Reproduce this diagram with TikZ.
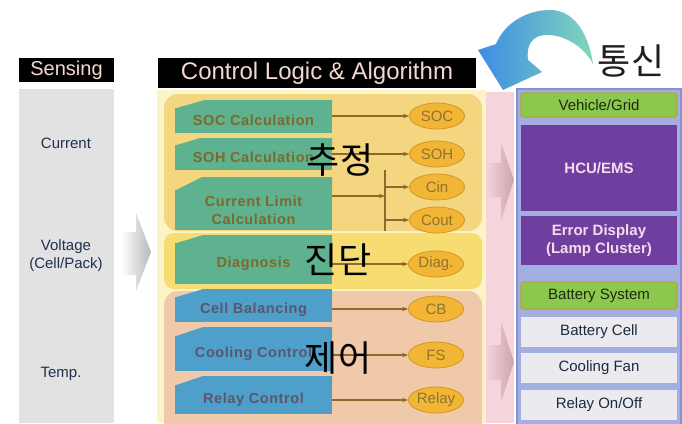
\documentclass[tikz,border=0pt]{standalone}
\usepackage{fontspec}
\setmainfont{Liberation Sans}
\newfontfamily\kr{Noto Sans CJK KR}
\newfontfamily\bwide[LetterSpace=4]{Liberation Sans}
\usetikzlibrary{shapes.geometric,arrows.meta}
\definecolor{sensG}{HTML}{E2E2E2}
\definecolor{hdrT}{HTML}{F4D8D2}
\definecolor{navT}{HTML}{1F3050}
\definecolor{paleY}{HTML}{FCF3C6}
\definecolor{estY}{HTML}{F3D67F}
\definecolor{diagY}{HTML}{F7DC72}
\definecolor{peach}{HTML}{EFC9AA}
\definecolor{tealF}{HTML}{5FB28F}
\definecolor{tealT}{HTML}{7C6A2C}
\definecolor{blueF}{HTML}{4F9FCB}
\definecolor{blueT}{HTML}{5A566E}
\definecolor{ellF}{HTML}{F2B535}
\definecolor{ellD}{HTML}{D4961E}
\definecolor{ellT}{HTML}{8E7432}
\definecolor{lineC}{HTML}{8C6A2A}
\definecolor{pinkC}{HTML}{F5D4DB}
\definecolor{pinkA}{HTML}{CDA2AE}
\definecolor{panelF}{HTML}{A4AFE1}
\definecolor{panelD}{HTML}{8591D5}
\definecolor{grnF}{HTML}{8CC74E}
\definecolor{grnD}{HTML}{B4A838}
\definecolor{grnT}{HTML}{1E2A10}
\definecolor{purF}{HTML}{6F3F9F}
\definecolor{purT}{HTML}{F4DCEC}
\definecolor{whF}{HTML}{EBEBEF}
\definecolor{whT}{HTML}{1E2A3C}
\definecolor{arrB}{HTML}{3C8CE6}
\definecolor{arrT}{HTML}{82D6BA}
\begin{document}
\begin{tikzpicture}[x=1pt,y=-1pt,
  conn/.style={draw=lineC,line width=1.1pt,-{Stealth[length=6pt,width=4.5pt]}},
  plainln/.style={draw=lineC,line width=1.1pt},
  ell/.style={ellipse,draw=ellD,line width=0.8pt,fill=ellF,minimum width=55pt,minimum height=26pt,inner sep=0pt,text=ellT,font=\fontsize{15}{18}\selectfont},
  tbox/.style={fill=tealF,minimum width=157pt,inner sep=0pt,text=tealT,align=center,font=\bwide\bfseries\fontsize{14.5}{18}\selectfont},
  bbox/.style={tbox,fill=blueF,text=blueT},
  hdr/.style={fill=black,inner sep=0pt,text=hdrT},
  stxt/.style={text=navT,align=center,font=\fontsize{15}{18}\selectfont},
  kor/.style={inner sep=0pt,text=black,font=\kr\fontsize{36}{40}\selectfont},
  rbox/.style={minimum width=156pt,inner sep=0pt,align=center,font=\fontsize{15}{18}\selectfont},
  gbox/.style={rbox,fill=grnF,draw=grnD,line width=1.2pt,rounded corners=2pt,text=grnT},
  pbox/.style={rbox,fill=purF,text=purT,font=\bfseries\fontsize{15}{18}\selectfont},
  wbox/.style={rbox,fill=whF,text=whT}]
\useasboundingbox (0,0) rectangle (682,423);
\fill[white] (0,0) rectangle (682,423);
% ---------- Sensing ----------
\node[hdr,minimum width=95pt,minimum height=24pt,font=\fontsize{20}{24}\selectfont] (sens) at (66.5,70) {Sensing};
\fill[sensG] (19,89) rectangle (114,423);
\node[stxt] (cur) at (66,143) {Current};
\node[stxt] (volt) at (66,256) {Voltage\\(Cell/Pack)};
\node[stxt] (temp) at (61,374) {Temp.};
\shade[left color=white,right color=gray!55] (121,232) -- (136,232) -- (136,213) -- (151,252) -- (136,291) -- (136,275) -- (121,275) -- cycle;
% ---------- Control logic ----------
\node[hdr,minimum width=318pt,minimum height=30pt,font=\fontsize{24}{28}\selectfont] (ctrl) at (317,73) {Control Logic \& Algorithm};
\fill[paleY] (157,90) rectangle (486,423);
\fill[estY,rounded corners=14pt] (164,94) rectangle (482,231);
\fill[diagY,rounded corners=10pt] (164,233) rectangle (482,289);
\fill[peach,rounded corners=14pt] (164,291) rectangle (482,440);
% chamfered tops
\fill[tealF] (175,108.5) -- (205,100) -- (332,100) -- (332,108.5) -- cycle;
\fill[tealF] (175,145.5) -- (200,138) -- (332,138) -- (332,145.5) -- cycle;
\fill[tealF] (175,190.5) -- (202,177) -- (332,177) -- (332,190.5) -- cycle;
\fill[tealF] (175,243.5) -- (203,235) -- (332,235) -- (332,243.5) -- cycle;
\fill[blueF] (175,297.5) -- (203,289) -- (332,289) -- (332,297.5) -- cycle;
\fill[blueF] (175,336.5) -- (203,327) -- (332,327) -- (332,336.5) -- cycle;
\fill[blueF] (175,385.5) -- (203,376) -- (332,376) -- (332,385.5) -- cycle;
\node[tbox,minimum height=25pt] (soc) at (253.5,120.5) {SOC Calculation};
\node[tbox,minimum height=25pt] (soh) at (253.5,157.5) {SOH Calculation};
\node[tbox,minimum height=40pt] (cl) at (253.5,210) {Current Limit\\Calculation};
\node[tbox,minimum height=41pt] (diag) at (253.5,263.5) {Diagnosis};
\node[bbox,minimum height=25pt] (cb) at (253.5,309.5) {Cell Balancing};
\node[bbox,minimum height=35pt] (cc) at (253.5,353.5) {Cooling Control};
\node[bbox,minimum height=29pt] (rc) at (253.5,399.5) {Relay Control};
% ellipses
\node[ell] (eSOC) at (437,116) {SOC};
\node[ell] (eSOH) at (437,154) {SOH};
\node[ell] (eCin) at (437,187) {Cin};
\node[ell] (eCout) at (437,220) {Cout};
\node[ell] (eDiag) at (436,264) {Diag.};
\node[ell] (eCB) at (436,309) {CB};
\node[ell] (eFS) at (436,355) {FS};
\node[ell] (eRelay) at (436,400) {Relay};
% connectors
\draw[conn] (soc.east |- eSOC) -- (eSOC.west);
\draw[conn] (soh.east |- eSOH) -- (eSOH.west);
\coordinate (barT) at (385,170);
\coordinate (barB) at (385,231);
\coordinate (barM) at (385,196);
\draw[plainln] (barT) -- (barB);
\draw[conn] (cl.east |- barM) -- (barM);
\draw[conn] (barT |- eCin) -- (eCin.west);
\draw[conn] (barT |- eCout) -- (eCout.west);
\draw[conn] (diag.east |- eDiag) -- (eDiag.west);
\draw[conn] (cb.east |- eCB) -- (eCB.west);
\draw[conn] (cc.east |- eFS) -- (eFS.west);
\draw[conn] (rc.east |- eRelay) -- (eRelay.west);
% Korean labels
\node[kor] (k1) at (340,160) {추정};
\node[kor] (k2) at (338,260) {진단};
\node[kor] (k3) at (338,358) {제어};
% ---------- pink column ----------
\fill[pinkC] (486,92) rectangle (514,423);
\shade[left color=pinkC,right color=pinkA] (486,163) -- (501,163) -- (501,143) -- (514,180) -- (501,220) -- (501,197) -- (486,197) -- cycle;
\shade[left color=pinkC,right color=pinkA] (486,345) -- (501,345) -- (501,322) -- (514,362) -- (501,402) -- (501,380) -- (486,380) -- cycle;
% ---------- right panel ----------
\fill[panelF,draw=panelD,line width=2pt] (517,89) rectangle (681,430);
\node[gbox,minimum height=24pt] (veh) at (599,105) {Vehicle/Grid};
\node[pbox,minimum height=86pt] (hcu) at (599,168) {HCU/EMS};
\node[pbox,minimum height=49pt] (err) at (599,240.5) {Error Display\\(Lamp Cluster)};
\node[gbox,minimum height=27pt] (bsys) at (599,295.5) {Battery System};
\node[wbox,minimum height=30pt] (bcell) at (599,332) {Battery Cell};
\node[wbox,minimum height=30pt] (cfan) at (599,368) {Cooling Fan};
\node[wbox,minimum height=30pt] (relay) at (599,405) {Relay On/Off};
% ---------- communication arrow ----------
\shade[left color=arrB,right color=arrT] (593,64) .. controls (588,30) and (572,10) .. (550,10) .. controls (528,10) and (505,22) .. (496,44) -- (478,50) -- (503,90) -- (542,72) -- (528,60) .. controls (526,45) and (532,36) .. (545,35) .. controls (565,34) and (585,48) .. (593,64) -- cycle;
\node[kor,text=black!88] (k4) at (631,61) {통신};
\end{tikzpicture}
\end{document}
